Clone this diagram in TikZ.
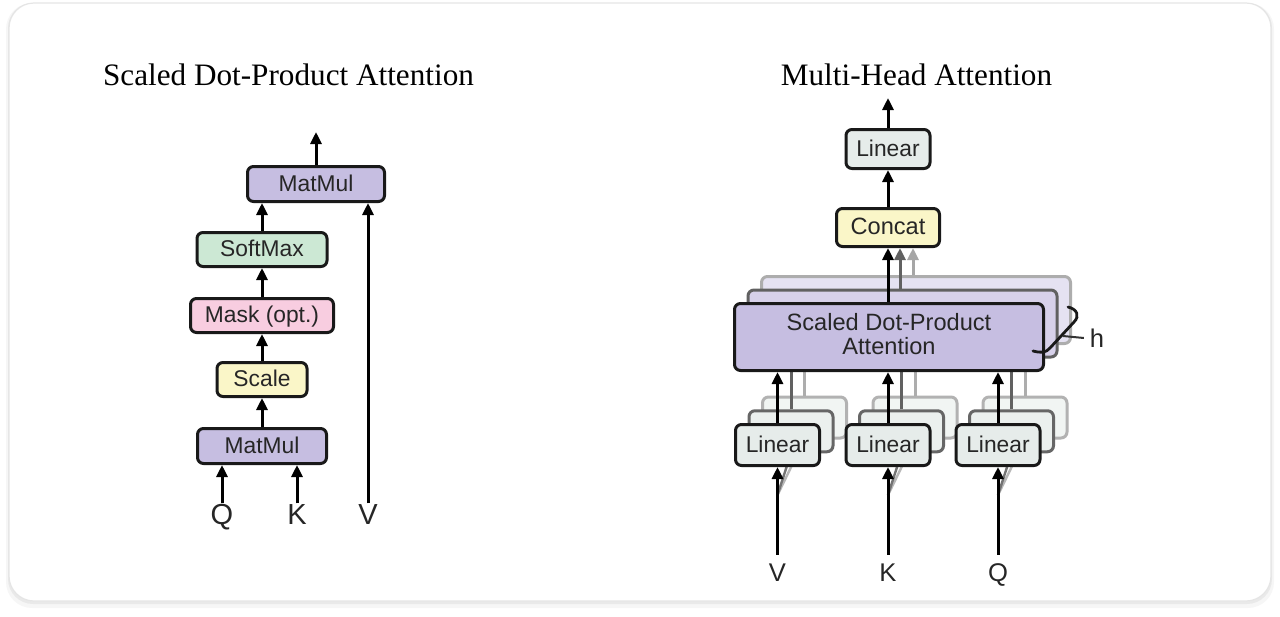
\documentclass[tikz,border=0pt]{standalone}
\usepackage{fontspec}
\setmainfont{Liberation Serif}
\setsansfont{Liberation Sans}
\usetikzlibrary{arrows.meta}
\definecolor{lav}{RGB}{198,190,225}
\definecolor{smgreen}{RGB}{204,232,212}
\definecolor{mpink}{RGB}{248,205,224}
\definecolor{syellow}{RGB}{250,246,200}
\definecolor{lgray}{RGB}{230,236,234}
\pgfdeclarelayer{card}
\pgfdeclarelayer{bg}
\pgfsetlayers{card,bg,main}
\begin{document}
\begin{tikzpicture}[x=0.5pt,y=-0.5pt,
  box/.style={draw=black!90, line width=1.5pt, rounded corners=3pt, inner sep=0pt,
    font=\sffamily\fontsize{11.4}{13}\selectfont, text=black!85,
    text height=0.72em, text depth=0pt},
  arr/.style={line width=1.5pt, -{Triangle[length=6pt,width=5.5pt]}},
  ghost/.style={line width=1.5pt},
  title/.style={font=\fontsize{15.6}{18}\selectfont, anchor=base, inner sep=0pt},
  letterL/.style={font=\sffamily\fontsize{14.5}{16}\selectfont, text=black!85, inner sep=0pt,
    outer sep=3.5pt, text height=0.72em, text depth=0pt},
  letterR/.style={font=\sffamily\fontsize{12.8}{15}\selectfont, text=black!85, inner sep=0pt,
    outer sep=6pt, text height=0.72em, text depth=0pt}]
\useasboundingbox (0,0) rectangle (1280,616);
\begin{pgfonlayer}{card}
\fill[black,opacity=0.035,rounded corners=13pt] (6,3) rectangle (1274,608);
\fill[black,opacity=0.05,rounded corners=12.5pt] (8,3) rectangle (1272,604);
\draw[black!10,fill=white,rounded corners=12.5pt,line width=0.6pt] (9,3) rectangle (1271,601);
\end{pgfonlayer}

% ---------- left panel ----------
\node[title] (tl) at (288.5,85.5) {Scaled Dot-Product Attention};
\node[box,fill=lav,minimum width=68.5pt,minimum height=17.5pt] (mm2) at (316,184) {MatMul};
\node[box,fill=smgreen,minimum width=65pt,minimum height=17pt] (sm) at (262,249.5) {SoftMax};
\node[box,fill=mpink,minimum width=71.5pt,minimum height=17pt] (mask) at (262,315.5) {Mask (opt.)};
\node[box,fill=syellow,minimum width=45pt,minimum height=17pt] (scale) at (262,379.5) {Scale};
\node[box,fill=lav,minimum width=64.5pt,minimum height=17.5pt] (mm1) at (262,446) {MatMul};
\node[letterL] (q) at (222,517.5) {Q};
\node[letterL] (k) at (297,517.5) {K};
\node[letterL] (v) at (368,517.5) {V};
\coordinate (outL) at (316,132);
\draw[arr] (q.north) -- (q.north |- mm1.south);
\draw[arr] (k.north) -- (k.north |- mm1.south);
\draw[arr] (v.north) -- (v.north |- mm2.south);
\draw[arr] (mm1) -- (scale);
\draw[arr] (scale) -- (mask);
\draw[arr] (mask) -- (sm);
\draw[arr] (sm.north) -- (sm.north |- mm2.south);
\draw[arr] (mm2.north) -- (outL);

% ---------- right panel ----------
\node[title] (tr) at (916.5,85.5) {Multi-Head Attention};
\node[box,fill=lgray,minimum width=42pt,minimum height=19.5pt] (lin) at (888,149) {Linear};
\node[box,fill=syellow,minimum width=51.5pt,minimum height=19pt,font=\sffamily\fontsize{11.8}{13}\selectfont] (concat) at (888,227.5) {Concat};
\coordinate (outR) at (888,98);
\draw[arr] (lin.north) -- (outR);
\draw[arr] (concat) -- (lin);

\node[box,draw=black!32,fill=lav!45!white,minimum width=154.5pt,minimum height=33.5pt] (sdB) at (916,310) {};
\draw[arr,black!35] ([xshift=-1.5pt]sdB.north) -- ([xshift=-1.5pt]sdB.north |- concat.south);
\node[box,draw=black!62,fill=lav!70!white,minimum width=154.5pt,minimum height=33.5pt] (sdM) at (902.5,323.5) {};
\draw[arr,black!62] ([xshift=-1.25pt]sdM.north) -- ([xshift=-1.25pt]sdM.north |- concat.south);
\node[box,fill=lav,minimum width=154.5pt,minimum height=33.5pt,align=center,
  font=\sffamily\fontsize{11.8}{11.6}\selectfont,text height=,text depth=] (sdF) at (889,337)
  {Scaled Dot-Product\\Attention\rule[-3pt]{0pt}{0pt}};
\draw[arr] (sdF.north -| concat) -- (concat.south);

% brace and h
\draw[line width=1.4pt,line cap=round,black!90] (1068,307) .. controls (1077,309) and (1080,316) .. (1074,322)
   -- (1050,348) .. controls (1046,353) and (1040,353) .. (1033,351);
\coordinate (bt) at (1063,336);
\node[font=\sffamily\fontsize{12.8}{15}\selectfont,text=black!85,inner sep=1pt,outer sep=2pt] (h) at (1097,338) {h};
\draw[line width=1pt,black!80] (bt) -- (h.west);

\foreach \n/\cx in {V/777.5,K/888,Q/998}{
  \begin{pgfonlayer}{bg}
    \node[box,draw=black!30,fill=lgray!55!white,minimum width=42pt,minimum height=20.5pt] (lb\n) at (\cx+27,417.5) {};
    \node[box,draw=black!60,fill=lgray!80!white,minimum width=42pt,minimum height=20.5pt] (lm\n) at (\cx+13.5,431.25) {};
    \draw[ghost,black!32] (lb\n.north) -- (lb\n.north |- sdB.south);
    \draw[ghost,black!62] (lm\n.north) -- (lm\n.north |- sdM.south);
    \coordinate (fan\n) at (\cx,495);
    \draw[line width=1.2pt,black!28] (fan\n) -- (lb\n.south);
    \draw[line width=1.2pt,black!55] (fan\n) -- (lm\n.south);
  \end{pgfonlayer}
  \node[box,fill=lgray,minimum width=42pt,minimum height=20.5pt] (lf\n) at (\cx,445) {Linear};
  \node[letterR] (in\n) at (\cx,574) {\n};
  \draw[arr] (in\n.north) -- (lf\n.south);
  \draw[arr] (lf\n.north) -- (lf\n.north |- sdF.south);
}
\end{tikzpicture}
\end{document}
